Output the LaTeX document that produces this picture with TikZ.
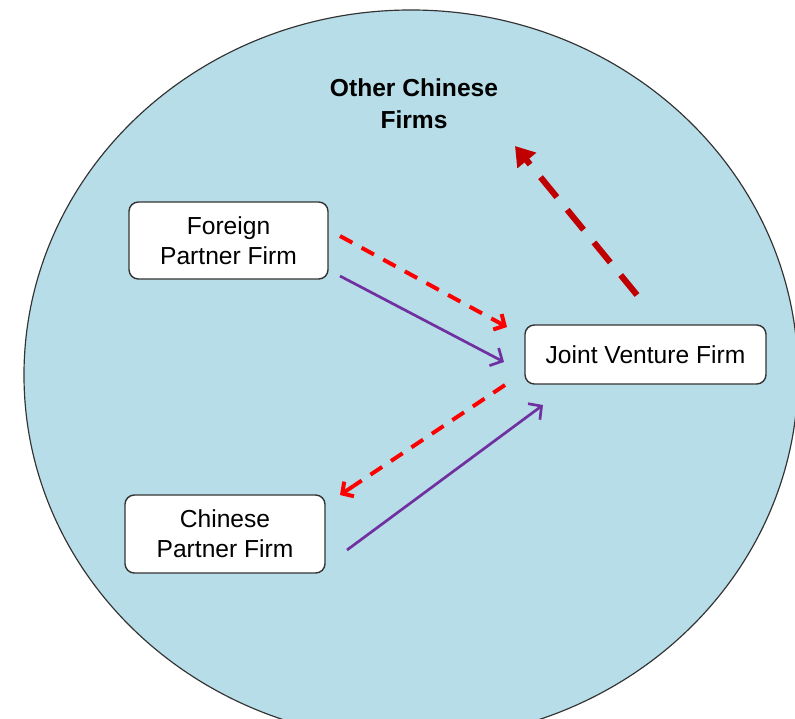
\documentclass[tikz,border=0pt]{standalone}
\usepackage{fontspec}
\setmainfont{Liberation Sans}
\usetikzlibrary{arrows.meta,calc}
\definecolor{poolblue}{HTML}{B7DDE8}
\definecolor{flowred}{HTML}{FF0000}
\definecolor{spillred}{HTML}{C00000}
\definecolor{linkpurple}{HTML}{7030A0}
\tikzset{
	firm/.style={draw=black!80, line width=1.2pt, fill=white, rounded corners=8pt, align=center, inner sep=0pt, font=\fontsize{21}{25.5}\selectfont},
	knowflow/.style={flowred, line width=3.4pt, dash pattern=on 12pt off 9pt},
	knowtip/.style={flowred, line width=3.4pt, -{Straight Barb[length=7pt,width=15pt]}},
	tieflow/.style={linkpurple, line width=2.3pt, -{Straight Barb[length=8pt,width=17pt]}},
	spillflow/.style={spillred, line width=5.2pt, dash pattern=on 22pt off 14pt, -{Triangle[length=16pt,width=20pt]}}
}

\begin{document}
\begin{tikzpicture}[x=0.03cm, y=-0.03cm]
			%%%%% START %%%%%
			
			\useasboundingbox (0, 0) rectangle (795, 718);
			\clip (0, 0) rectangle (795, 718);
			
			\draw[fill=poolblue, draw=black!80, line width=1pt] (411, 375) ellipse [x radius=11.61cm, y radius=10.95cm];
			
			\node[font=\bfseries\fontsize{21}{27}\selectfont, align=center] (other) at (414, 104) {Other Chinese\\Firms};
			
			\node[firm, minimum width=5.97cm, minimum height=2.31cm] (foreign) at (228.5, 240.5) {Foreign\\Partner Firm};
			\node[firm, minimum width=7.23cm, minimum height=1.77cm] (jv) at (645.5, 354.5) {Joint Venture Firm};
			\node[firm, minimum width=6cm, minimum height=2.34cm] (chinese) at (225, 534) {Chinese\\Partner Firm};
			
			\coordinate (fk1) at (340, 236);
			\coordinate (fk2) at (507, 327);
			\coordinate (fk3) at ($(fk2)!14pt!(fk1)$);
			\coordinate (ft1) at (340, 276);
			\coordinate (ft2) at (504, 362);
			\coordinate (ck1) at (505, 385);
			\coordinate (ck2) at (340, 495);
			\coordinate (ck3) at ($(ck2)!14pt!(ck1)$);
			\coordinate (ct1) at (347, 550);
			\coordinate (ct2) at (543, 405);
			\coordinate (os1) at (637, 295);
			\coordinate (os2) at (515, 146);
			
			\draw[knowflow] (fk1) -- (fk3);
			\draw[knowtip] (fk3) -- (fk2);
			\draw[tieflow] (ft1) -- (ft2);
			\draw[knowflow] (ck1) -- (ck3);
			\draw[knowtip] (ck3) -- (ck2);
			\draw[tieflow] (ct1) -- (ct2);
			\draw[spillflow] (os1) -- (os2);
			
			%%%%% END %%%%%
		\end{tikzpicture}
\end{document}
